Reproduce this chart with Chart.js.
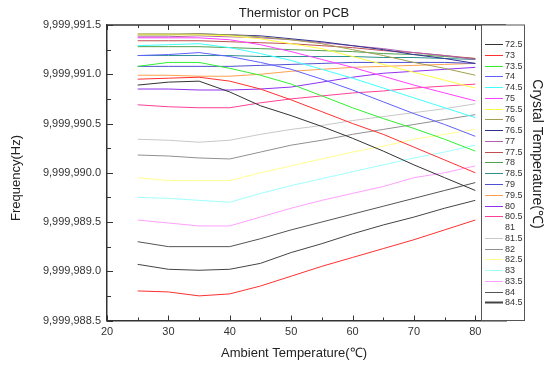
<!DOCTYPE html>
<html>
<head>
<meta charset="utf-8">
<script src="https://cdn.jsdelivr.net/npm/chart.js@4.4.0/dist/chart.umd.min.js"></script>
<style>
  html, body { margin: 0; padding: 0; background: #fff; }
</style>
</head>
<body>
<canvas id="chart" width="546" height="365"></canvas>
<script>
// ambient temperature (x) in degC
const ambient = [25, 30, 35, 40, 45, 50, 55, 60, 65, 70, 75, 80];

// one curve per crystal temperature, frequency in Hz
const f72_5 = [9999990.89, 9999990.92, 9999990.93, 9999990.82, 9999990.68, 9999990.58, 9999990.47, 9999990.35, 9999990.22, 9999990.08, 9999989.95, 9999989.82];
const f73   = [9999990.95, 9999990.96, 9999990.97, 9999990.93, 9999990.85, 9999990.74, 9999990.62, 9999990.50, 9999990.39, 9999990.26, 9999990.13, 9999990.00];
const f73_5 = [9999991.08, 9999991.12, 9999991.12, 9999991.06, 9999990.99, 9999990.90, 9999990.78, 9999990.66, 9999990.55, 9999990.45, 9999990.34, 9999990.22];
const f74   = [9999991.19, 9999991.20, 9999991.22, 9999991.18, 9999991.12, 9999991.05, 9999990.95, 9999990.84, 9999990.72, 9999990.60, 9999990.49, 9999990.37];
const f74_5 = [9999991.29, 9999991.30, 9999991.31, 9999991.27, 9999991.21, 9999991.14, 9999991.05, 9999990.96, 9999990.86, 9999990.76, 9999990.66, 9999990.56];
const f75   = [9999991.37, 9999991.37, 9999991.37, 9999991.35, 9999991.30, 9999991.23, 9999991.15, 9999991.07, 9999990.98, 9999990.89, 9999990.81, 9999990.73];
const f75_5 = [9999991.40, 9999991.40, 9999991.40, 9999991.39, 9999991.36, 9999991.31, 9999991.26, 9999991.18, 9999991.10, 9999991.02, 9999990.94, 9999990.86];
const f76   = [9999991.41, 9999991.41, 9999991.41, 9999991.40, 9999991.38, 9999991.35, 9999991.31, 9999991.25, 9999991.19, 9999991.12, 9999991.06, 9999990.99];
const f76_5 = [9999991.40, 9999991.40, 9999991.41, 9999991.40, 9999991.39, 9999991.36, 9999991.33, 9999991.29, 9999991.25, 9999991.20, 9999991.16, 9999991.11];
const f77   = [9999991.38, 9999991.38, 9999991.39, 9999991.38, 9999991.37, 9999991.35, 9999991.32, 9999991.29, 9999991.26, 9999991.22, 9999991.19, 9999991.15];
const f77_5 = [9999991.34, 9999991.34, 9999991.34, 9999991.33, 9999991.32, 9999991.31, 9999991.29, 9999991.27, 9999991.24, 9999991.22, 9999991.19, 9999991.16];
const f78   = [9999991.28, 9999991.28, 9999991.28, 9999991.27, 9999991.26, 9999991.25, 9999991.24, 9999991.23, 9999991.21, 9999991.20, 9999991.18, 9999991.16];
const f78_5 = [9999991.19, 9999991.19, 9999991.19, 9999991.19, 9999991.18, 9999991.18, 9999991.18, 9999991.18, 9999991.17, 9999991.17, 9999991.16, 9999991.15];
const f79   = [9999991.08, 9999991.08, 9999991.08, 9999991.08, 9999991.09, 9999991.10, 9999991.11, 9999991.12, 9999991.12, 9999991.12, 9999991.12, 9999991.11];
const f79_5 = [9999990.99, 9999990.99, 9999990.98, 9999990.98, 9999991.00, 9999991.03, 9999991.05, 9999991.07, 9999991.08, 9999991.09, 9999991.10, 9999991.11];
const f80   = [9999990.85, 9999990.85, 9999990.84, 9999990.84, 9999990.85, 9999990.87, 9999990.92, 9999990.97, 9999991.01, 9999991.03, 9999991.05, 9999991.07];
const f80_5 = [9999990.69, 9999990.67, 9999990.66, 9999990.66, 9999990.71, 9999990.75, 9999990.78, 9999990.81, 9999990.83, 9999990.86, 9999990.88, 9999990.90];
const f81   = [9999990.52, 9999990.50, 9999990.49, 9999990.49, 9999990.55, 9999990.60, 9999990.64, 9999990.68, 9999990.71, 9999990.74, 9999990.77, 9999990.80];
const f81_5 = [9999990.34, 9999990.33, 9999990.31, 9999990.33, 9999990.39, 9999990.44, 9999990.48, 9999990.53, 9999990.57, 9999990.61, 9999990.65, 9999990.70];
const f82   = [9999990.18, 9999990.17, 9999990.15, 9999990.14, 9999990.21, 9999990.28, 9999990.33, 9999990.39, 9999990.44, 9999990.49, 9999990.54, 9999990.59];
const f82_5 = [9999989.95, 9999989.92, 9999989.92, 9999989.92, 9999990.00, 9999990.07, 9999990.14, 9999990.21, 9999990.27, 9999990.34, 9999990.39, 9999990.44];
const f83   = [9999989.75, 9999989.74, 9999989.72, 9999989.70, 9999989.79, 9999989.87, 9999989.94, 9999990.01, 9999990.08, 9999990.15, 9999990.21, 9999990.28];
const f83_5 = [9999989.52, 9999989.49, 9999989.46, 9999989.46, 9999989.55, 9999989.64, 9999989.72, 9999989.79, 9999989.86, 9999989.95, 9999990.00, 9999990.07];
const f84   = [9999989.30, 9999989.25, 9999989.25, 9999989.25, 9999989.33, 9999989.42, 9999989.50, 9999989.58, 9999989.66, 9999989.74, 9999989.82, 9999989.90];
const f84_5 = [9999989.07, 9999989.02, 9999989.01, 9999989.02, 9999989.08, 9999989.19, 9999989.28, 9999989.38, 9999989.47, 9999989.55, 9999989.64, 9999989.72];
const f85   = [9999988.80, 9999988.79, 9999988.75, 9999988.77, 9999988.85, 9999988.95, 9999989.05, 9999989.14, 9999989.23, 9999989.32, 9999989.42, 9999989.52];

const crystalTemps = ['72.5', '73', '73.5', '74', '74.5', '75', '75.5', '76', '76.5', '77', '77.5', '78', '78.5',
                      '79', '79.5', '80', '80.5', '81', '81.5', '82', '82.5', '83', '83.5', '84', '84.5', '85'];
const series = [f72_5, f73, f73_5, f74, f74_5, f75, f75_5, f76, f76_5, f77, f77_5, f78, f78_5,
                f79, f79_5, f80, f80_5, f81, f81_5, f82, f82_5, f83, f83_5, f84, f84_5, f85];
const lineColors = ['#333333', '#ff3030', '#30f030', '#6060ff', '#40ffff', '#ff40ff', '#ffff40', '#a0a050',
                    '#303090', '#b060b0', '#c05050', '#50a050', '#309090', '#5050d0', '#ffa050', '#9030f0',
                    '#ff4098', '#ffffff', '#c8c8c8', '#909090', '#ffff90', '#a0ffff', '#ffa0ff', '#555555',
                    '#444444', '#ff3030'];
// the legend box only lists the first 25 curves
const legendCount = 25;

const xMajor = [20, 30, 40, 50, 60, 70, 80];
const xMinor = [25, 35, 45, 55, 65, 75, 85];
const yMajor = [9999988.5, 9999989.0, 9999989.5, 9999990.0, 9999990.5, 9999991.0, 9999991.5];
const yMinor = [9999988.75, 9999989.25, 9999989.75, 9999990.25, 9999990.75, 9999991.25];

const FONT = "'Liberation Sans', Arial, sans-serif";
const INK = '#333333';

const decorations = {
  id: 'decorations',
  afterDraw(chart) {
    const {ctx, chartArea: a, scales: {x, y}} = chart;
    ctx.save();
    ctx.strokeStyle = INK;

    // top frame line
    ctx.lineWidth = 1.5;
    ctx.beginPath();
    ctx.moveTo(a.left, a.top);
    ctx.lineTo(a.right, a.top);
    ctx.stroke();

    // inward ticks
    ctx.lineWidth = 1;
    ctx.beginPath();
    const tickX = (v, len) => {
      const px = Math.round(x.getPixelForValue(v)) + 0.5;
      ctx.moveTo(px, a.bottom); ctx.lineTo(px, a.bottom - len);
      ctx.moveTo(px, a.top); ctx.lineTo(px, a.top + len);
    };
    const tickY = (v, len) => {
      const py = Math.round(y.getPixelForValue(v)) + 0.5;
      ctx.moveTo(a.left, py); ctx.lineTo(a.left + len, py);
    };
    xMajor.forEach(v => tickX(v, 5));
    xMinor.forEach(v => tickX(v, 3));
    yMajor.forEach(v => tickY(v, 6));
    yMinor.forEach(v => tickY(v, 4));
    ctx.stroke();

    // legend box
    const lx = 481.5, lr = 524.5, lt = 25, lb = 320.5;
    ctx.fillStyle = '#fff';
    ctx.fillRect(lx, lt, lr - lx, lb - lt);
    ctx.lineWidth = 1;
    ctx.strokeStyle = '#555';
    ctx.strokeRect(lx, lt, lr - lx, lb - lt);
    ctx.font = '9px ' + FONT;
    ctx.textBaseline = 'middle';
    ctx.textAlign = 'left';
    chart.data.datasets.slice(0, legendCount).forEach((ds, i) => {
      const ly = Math.round(44 + i * 10.77) + 0.5;
      ctx.strokeStyle = ds.borderColor;
      ctx.lineWidth = i === legendCount - 1 ? 2 : 1;
      ctx.beginPath();
      ctx.moveTo(485, ly); ctx.lineTo(503, ly);
      ctx.stroke();
      ctx.fillStyle = INK;
      ctx.fillText(ds.label, 505, ly);
    });

    // titles
    ctx.fillStyle = '#222';
    ctx.textAlign = 'center';
    ctx.font = '13px ' + FONT;
    ctx.fillText('Thermistor on PCB', 294, 13);
    ctx.fillText('Ambient Temperature(℃)', 294, 353);
    ctx.save();
    ctx.translate(16, 178);
    ctx.rotate(-Math.PI / 2);
    ctx.fillText('Frequency(Hz)', 0, 0);
    ctx.restore();
    ctx.save();
    ctx.translate(537, 154);
    ctx.rotate(Math.PI / 2);
    ctx.font = '14px ' + FONT;
    ctx.fillText('Crystal Temperature(℃)', 0, 0);
    ctx.restore();
    ctx.restore();
  }
};

new Chart(document.getElementById('chart'), {
  type: 'line',
  data: {
    labels: ambient,
    datasets: series.map((vals, i) => ({
      label: crystalTemps[i],
      data: ambient.map((t, j) => ({x: t, y: vals[j]})),
      borderColor: lineColors[i],
      borderWidth: 1,
      pointRadius: 0,
      tension: 0,
      fill: false
    }))
  },
  options: {
    responsive: false,
    animation: false,
    devicePixelRatio: 1,
    layout: {padding: {top: 25, right: 40, bottom: 0, left: 0}},
    plugins: {
      legend: {display: false},
      tooltip: {enabled: false},
      title: {display: false}
    },
    scales: {
      x: {
        type: 'linear',
        min: 20,
        max: 85,
        afterBuildTicks: s => { s.ticks = xMajor.map(v => ({value: v})); },
        afterFit: s => { s.height = 44.5; },
        grid: {display: false, drawTicks: false},
        border: {display: true, color: INK, width: 1.5},
        ticks: {color: INK, padding: 5, maxRotation: 0, font: {family: FONT, size: 11}}
      },
      y: {
        type: 'linear',
        min: 9999988.5,
        max: 9999991.5,
        afterBuildTicks: s => { s.ticks = yMajor.map(v => ({value: v})); },
        afterFit: s => { s.width = 107; },
        grid: {display: false, drawTicks: false},
        border: {display: true, color: INK, width: 1.5},
        ticks: {
          color: INK,
          padding: 6,
          font: {family: FONT, size: 11},
          callback: v => v.toLocaleString('en-US', {minimumFractionDigits: 1, maximumFractionDigits: 1})
        }
      }
    }
  },
  plugins: [decorations]
});
</script>
</body>
</html>
